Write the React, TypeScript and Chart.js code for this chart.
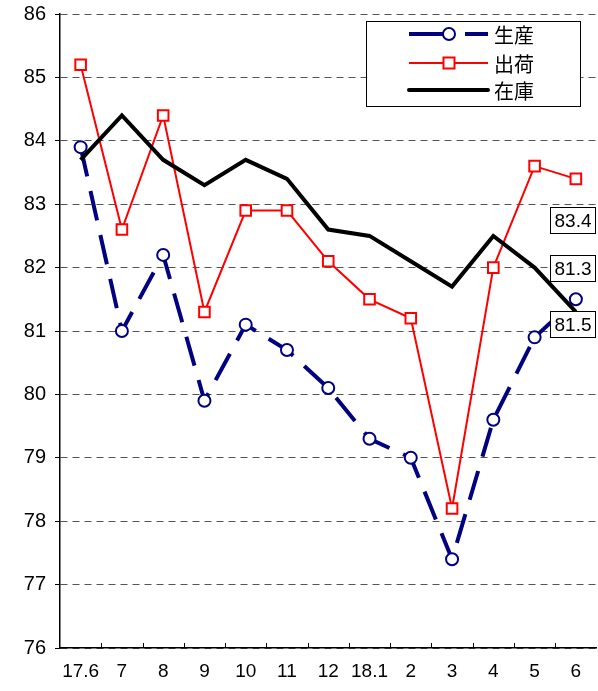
import React, { useEffect, useRef } from "react";
import { Chart, registerables } from "chart.js";
Chart.register(...registerables);

const categories = ["17.6", "7", "8", "9", "10", "11", "12", "18.1", "2", "3", "4", "5", "6"];
const seriesNames = ["生産", "出荷", "在庫"];
const production = [83.9, 81.0, 82.2, 79.9, 81.1, 80.7, 80.1, 79.3, 79.0, 77.4, 79.6, 80.9, 81.5];
const shipments = [85.2, 82.6, 84.4, 81.3, 82.9, 82.9, 82.1, 81.5, 81.2, 78.2, 82.0, 83.6, 83.4];
const inventory = [83.7, 84.4, 83.7, 83.3, 83.7, 83.4, 82.6, 82.5, 82.1, 81.7, 82.5, 82.0, 81.3];
const yMin = 76;
const yMax = 86;
const endLabels = ["83.4", "81.3", "81.5"];

const NAVY = "#000080";
const RED = "#ff0000";
const DASH = [30, 15];
const SHIFT_Y = 7;
const EXTRA_W = 8;

const overlay = {
  id: "overlay",
  afterDraw(chart: any) {
    const { ctx, chartArea, scales } = chart;
    const x = scales.x;
    ctx.save();
    ctx.strokeStyle = "#000";
    ctx.lineWidth = 1;
    for (let i = 1; i < categories.length; i++) {
      const px = Math.round((x.getPixelForValue(i - 1) + x.getPixelForValue(i)) / 2) + 0.5;
      ctx.beginPath();
      ctx.moveTo(px, chartArea.bottom);
      ctx.lineTo(px, chartArea.bottom - 5);
      ctx.stroke();
    }
    ctx.translate(0, SHIFT_Y);
    // legend
    const lx = 366.5, ly = 21.5, lw = 214, lh = 85;
    ctx.fillStyle = "#fff";
    ctx.fillRect(lx, ly, lw, lh);
    ctx.strokeStyle = "#000";
    ctx.lineWidth = 1;
    ctx.strokeRect(lx, ly, lw, lh);
    const rows = [34, 63, 90];
    const x1 = 409, x2 = 488, mx = 449;
    ctx.font = '20px "Noto Sans CJK JP"';
    ctx.textBaseline = "middle";
    ctx.textAlign = "left";
    ctx.strokeStyle = NAVY;
    ctx.lineWidth = 4;
    ctx.setLineDash([34, 22]);
    ctx.beginPath(); ctx.moveTo(x1, rows[0]); ctx.lineTo(x2, rows[0]); ctx.stroke();
    ctx.setLineDash([]);
    ctx.beginPath(); ctx.arc(mx, rows[0], 6, 0, Math.PI * 2);
    ctx.fillStyle = "#fff"; ctx.fill(); ctx.lineWidth = 2; ctx.stroke();
    ctx.strokeStyle = RED; ctx.lineWidth = 2;
    ctx.beginPath(); ctx.moveTo(x1, rows[1]); ctx.lineTo(x2, rows[1]); ctx.stroke();
    ctx.fillStyle = "#fff"; ctx.lineWidth = 2;
    ctx.fillRect(mx - 5.5, rows[1] - 5.5, 11, 11); ctx.strokeRect(mx - 5.5, rows[1] - 5.5, 11, 11);
    ctx.strokeStyle = "#000"; ctx.lineWidth = 4; ctx.lineCap = "round";
    ctx.beginPath(); ctx.moveTo(x1, rows[2]); ctx.lineTo(x2, rows[2]); ctx.stroke();
    ctx.lineCap = "butt";
    ctx.fillStyle = "#000";
    seriesNames.forEach((n, i) => ctx.fillText(n, 494, rows[i] + 1));
    ctx.translate(0, -SHIFT_Y);
    // end labels
    const last = categories.length - 1;
    const y = scales.y;
    const ys = [
      y.getPixelForValue(shipments[last]) + 42,
      y.getPixelForValue(inventory[last]) - 43,
      y.getPixelForValue(production[last]) + 26,
    ];
    ctx.font = '19px "Liberation Sans"';
    ctx.textAlign = "center";
    endLabels.forEach((t, i) => {
      const cy = Math.round(ys[i]);
      ctx.fillStyle = "#fff";
      ctx.fillRect(550.5, cy - 13.5, 45, 26);
      ctx.strokeStyle = "#000"; ctx.lineWidth = 1;
      ctx.strokeRect(550.5, cy - 13.5, 45, 26);
      ctx.fillStyle = "#000";
      ctx.fillText(t, 573, cy + 1);
    });
    ctx.restore();
  },
};

export default function App() {
  const ref = useRef<HTMLCanvasElement>(null);
  useEffect(() => {
    const chart = new Chart(ref.current!, {
      type: "line",
      data: {
        labels: categories,
        datasets: [
          {
            label: seriesNames[0], data: production, borderColor: NAVY, borderWidth: 4,
            borderDash: DASH, pointStyle: "circle", pointRadius: 6, pointBorderWidth: 2,
            pointBackgroundColor: "#fff", pointBorderColor: NAVY, order: 2, tension: 0,
          },
          {
            label: seriesNames[1], data: shipments, borderColor: RED, borderWidth: 2,
            pointStyle: "rect", pointRadius: 7.5, pointBorderWidth: 2,
            pointBackgroundColor: "#fff", pointBorderColor: RED, order: 1, tension: 0,
          },
          {
            label: seriesNames[2], data: inventory, borderColor: "#000", borderWidth: 4,
            pointRadius: 0, order: 0, tension: 0,
          },
        ],
      },
      options: {
        animation: false,
        responsive: false,
        maintainAspectRatio: false,
        layout: { padding: 0 },
        plugins: { legend: { display: false }, tooltip: { enabled: false } },
        scales: {
          x: {
            offset: true,
            grid: { display: false, offset: true },
            border: { display: true, color: "#000", width: 1.5 },
            ticks: { color: "#000", font: { family: "Liberation Sans", size: 19 }, padding: 4, maxRotation: 0, autoSkip: false },
            afterFit: (s: any) => { s.height = 43; },
          },
          y: {
            min: yMin, max: yMax,
            ticks: { stepSize: 1, color: "#000", font: { family: "Liberation Sans", size: 20 }, padding: 9 },
            grid: { color: "#555", lineWidth: 1, tickLength: 5, tickColor: "#000", tickBorderDash: [], drawTicks: true },
            border: { display: true, color: "#000", width: 1.5, dash: [7, 5] },
            afterFit: (s: any) => { s.width = 60; },
          },
        },
      },
      plugins: [overlay],
    });
    return () => chart.destroy();
  }, []);
  return (
    <div style={{ position: "fixed", left: 0, top: 0, width: 598, height: 691, overflow: "hidden", background: "#fff" }}>
      <canvas ref={ref} width={598 + EXTRA_W} height={691 + SHIFT_Y}
        style={{ display: "block", position: "absolute", left: 0, top: -SHIFT_Y }} />
    </div>
  );
}
